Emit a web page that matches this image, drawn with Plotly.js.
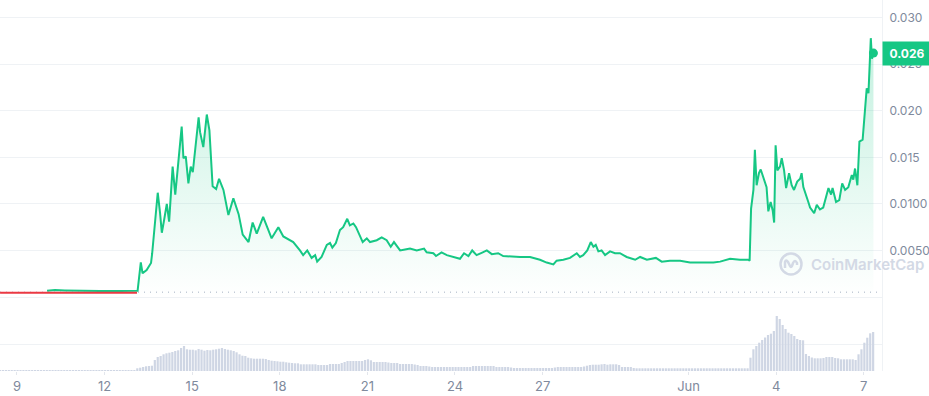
<!DOCTYPE html>
<html>
<head>
<meta charset="utf-8">
<script src="https://cdn.plot.ly/plotly-3.0.1.min.js"></script>
<style>
html,body{margin:0;padding:0;background:#fff;}
#chart{width:929px;height:396px;}
</style>
</head>
<body>
<div id="chart"></div>
<script>
// ---- Data (days are "day of May", values > 31 run into June) ----
const redDays = [8.42, 10.03, 11.84, 13.11];
const redVals = [0.00046, 0.00046, 0.00046, 0.00046];

const priceDays = [
  10.03,10.30,10.64,11.16,11.84,12.53,13.11,13.13,
  13.24,13.30,13.44,13.59,13.63,13.82,13.90,13.96,14.04,14.13,14.21,14.33,14.42,
  14.64,14.70,14.78,14.87,14.95,15.02,15.22,15.27,15.38,15.50,15.59,15.70,15.82,
  15.92,16.07,16.24,16.41,16.59,16.73,16.93,17.07,17.21,17.43,17.72,17.95,18.12,
  18.46,18.69,18.80,18.94,19.09,19.21,19.28,19.43,19.61,19.72,19.80,19.92,20.06,
  20.17,20.31,20.40,20.52,20.61,20.69,20.84,20.98,21.09,21.32,21.49,21.66,21.80,
  21.91,22.12,22.29,22.46,22.69,22.94,23.03,23.26,23.35,23.54,23.72,24.00,24.17,
  24.31,24.46,24.59,24.74,24.95,25.09,25.26,25.48,25.65,26.00,26.23,26.57,26.91,
  27.14,27.37,27.48,27.71,27.94,28.17,28.28,28.39,28.53,28.65,28.74,28.82,28.91,
  29.02,29.14,29.31,29.48,29.65,29.88,30.17,30.34,30.57,30.88,31.08,31.36,31.71,
  32.05,32.50,32.85,33.08,33.42,33.76,34.04,34.09,34.14,34.22,34.27,34.33,34.41,
  34.47,34.56,34.67,34.73,34.81,34.88,34.93,34.98,35.04,35.13,35.19,35.27,35.34,
  35.44,35.53,35.61,35.72,35.82,35.87,35.93,36.02,36.10,36.16,36.30,36.39,36.50,
  36.61,36.71,36.79,36.88,36.93,37.05,37.16,37.26,37.36,37.47,37.59,37.64,37.70,
  37.78,37.85,37.96,38.10,38.16,38.24,38.28,38.33
];
const priceVals = [
  0.00066,0.00074,0.00070,0.00066,0.00064,0.00064,0.00064,0.00066,
  0.00372,0.00254,0.0029,0.00365,0.0047,0.0112,0.0090,0.0069,0.0083,0.0100,0.0081,0.0140,0.0110,
  0.0183,0.0149,0.0151,0.0122,0.0140,0.0134,0.0193,0.0177,0.0161,0.0196,0.0179,0.0119,0.0116,
  0.0127,0.0115,0.0088,0.0106,0.0089,0.0067,0.0059,0.0080,0.0068,0.0086,0.0063,0.0075,0.0065,
  0.0059,0.0050,0.0045,0.0050,0.0042,0.0045,0.0038,0.0043,0.0056,0.0058,0.0053,0.0058,0.0072,
  0.0075,0.0084,0.0077,0.0079,0.0075,0.0070,0.0059,0.0063,0.0059,0.0061,0.0064,0.0061,0.0054,
  0.0059,0.0050,0.0051,0.0052,0.0050,0.0052,0.0048,0.0047,0.0044,0.0048,0.0045,0.0042,0.0041,
  0.0047,0.0044,0.0050,0.0045,0.0048,0.0050,0.0046,0.0047,0.0044,0.0043,0.0043,0.0043,0.0040,
  0.0037,0.0035,0.0039,0.0040,0.0042,0.0047,0.0043,0.0045,0.0050,0.0059,0.0054,0.0056,0.0049,
  0.0050,0.0045,0.0049,0.0047,0.0047,0.0043,0.0040,0.0043,0.0040,0.0042,0.0038,0.0039,0.0039,
  0.0037,0.0037,0.0037,0.0038,0.0041,0.0040,0.0040,0.0039,0.0095,0.0115,0.0158,0.0120,0.0133,
  0.0137,0.0129,0.0118,0.0092,0.0102,0.0093,0.0080,0.0163,0.0136,0.0140,0.0149,0.0136,0.0117,
  0.0133,0.0120,0.0115,0.0124,0.0127,0.0133,0.0118,0.0108,0.0102,0.0096,0.0090,0.0099,0.0094,
  0.0096,0.0108,0.0117,0.0110,0.0117,0.0102,0.0104,0.0122,0.0115,0.0118,0.0131,0.0126,0.0138,
  0.0120,0.0167,0.0169,0.0224,0.0219,0.0278,0.0256,0.0262
];

// volume bars: one every 0.1 day starting at volStartDay (arbitrary units)
const volStartDay = 8.42;
const volStepDay = 0.1;
const volumes = [
  10,10,10,10,10,10,10,10,10,10,10,10,10,10,10,10,10,10,10,10,10,10,10,10,10,10,10,10,10,10,
  10,10,10,10,10,10,10,10,10,10,10,10,10,10,10,10,10,
  27,33,40,47,50,53,110,140,150,167,177,183,190,200,207,230,250,217,213,213,207,220,213,203,210,
  207,213,217,223,230,220,213,207,200,187,167,153,150,133,127,123,123,123,123,120,110,103,100,97,
  93,93,87,83,80,77,77,
  67,67,67,67,67,67,60,60,60,60,70,70,70,70,80,90,100,100,100,100,100,100,110,117,107,
  90,90,90,90,90,85,80,80,80,70,70,70,70,70,65,60,50,50,50,45,
  40,40,40,40,40,40,40,40,40,40,40,40,40,40,50,50,50,50,50,50,50,50,40,40,40,40,40,35,
  30,30,30,30,30,30,30,30,30,30,30,30,30,30,35,40,40,40,40,40,40,40,40,40,
  45,53,60,63,63,63,67,70,63,67,67,67,60,40,40,40,40,30,
  27,27,27,27,27,27,27,27,27,27,27,27,27,27,27,27,27,27,27,27,27,27,27,27,27,27,27,27,27,27,
  27,27,27,27,27,27,27,27,27,
  133,217,250,283,310,335,360,373,400,550,520,460,420,383,370,350,320,310,307,
  170,150,135,127,127,127,130,140,140,140,130,127,117,117,117,117,117,110,167,217,283,333,377,390
];

const tickDays = [9, 12, 15, 18, 21, 24, 27, 32, 35, 38];
const tickLabels = ['9', '12', '15', '18', '21', '24', '27', 'Jun', '4', '7'];

const priceTicks = [0.005, 0.010, 0.015, 0.020, 0.025, 0.030];
const priceTickLabels = ['0.0050', '0.0100', '0.015', '0.020', '0.025', '0.030'];

const openPrice = 0.00052;
const currentPriceLabel = '0.026';

// ---- helpers ----
function toDate(d) {
  const ms = Date.UTC(2023, 4, 1) + Math.round((d - 1) * 86400000);
  return new Date(ms).toISOString().slice(0, 19).replace('T', ' ');
}
const GREEN = '#16c784';
const RED = '#ea3943';
const GRID = '#eff2f5';
const TXT = '#808a9d';
const WM = '#d3d9e5';

const priceX = priceDays.map(toDate);
const redX = redDays.map(toDate);
const volX = volumes.map((v, i) => toDate(volStartDay + i * volStepDay));
const lastX = priceX[priceX.length - 1];
const lastY = priceVals[priceVals.length - 1];

const traces = [
  {
    type: 'bar', x: volX, y: volumes, xaxis: 'x', yaxis: 'y2',
    marker: {color: '#cfd6e4'}, hoverinfo: 'skip'
  },
  {
    type: 'scatter', mode: 'lines', x: priceX, y: priceVals,
    line: {color: GREEN, width: 2},
    fill: 'tozeroy',
    fillgradient: {
      type: 'vertical', start: 0, stop: 0.028,
      colorscale: [[0, 'rgba(22,199,132,0)'], [1, 'rgba(22,199,132,0.26)']]
    },
    hoverinfo: 'skip'
  },
  {
    type: 'scatter', mode: 'lines', x: redX, y: redVals,
    line: {color: RED, width: 2}, hoverinfo: 'skip'
  },
  {
    type: 'scatter', mode: 'markers', x: [lastX], y: [lastY],
    marker: {color: GREEN, size: 9}, hoverinfo: 'skip'
  }
];

const volDomTop = (371 - 297) / 371;
const wmY = (371 - 264) / 371;

const layout = {
  width: 929, height: 396,
  margin: {l: 0, r: 47, t: 0, b: 25, pad: 0},
  paper_bgcolor: '#ffffff', plot_bgcolor: '#ffffff',
  showlegend: false,
  font: {family: 'Inter, "Noto Sans", sans-serif', color: TXT, size: 12},
  bargap: 0.25,
  xaxis: {
    type: 'date',
    range: [toDate(8.418), toDate(8.418 + 882 / 29.2)],
    anchor: 'y2',
    showgrid: false, zeroline: false, showline: false,
    tickvals: tickDays.map(toDate), ticktext: tickLabels,
    ticks: 'outside', ticklen: 3, tickcolor: '#e3e6ec', tickwidth: 1,
    tickfont: {size: 13, color: TXT, family: 'Inter, sans-serif'},
    fixedrange: true
  },
  yaxis: {
    domain: [volDomTop, 1],
    range: [0, 0.0319],
    side: 'right',
    tickvals: priceTicks, ticktext: priceTickLabels,
    ticks: '', ticklabelstandoff: 4,
    tickfont: {size: 12, color: TXT, family: 'Inter, sans-serif'},
    showgrid: true, gridcolor: GRID, gridwidth: 1,
    zeroline: true, zerolinecolor: GRID, zerolinewidth: 1,
    showline: true, linecolor: GRID, linewidth: 1,
    fixedrange: true
  },
  yaxis2: {
    domain: [0, volDomTop],
    range: [0, 740],
    side: 'right',
    tickvals: [270], showticklabels: false, ticks: '',
    showgrid: true, gridcolor: GRID, gridwidth: 1,
    zeroline: false,
    showline: true, linecolor: GRID, linewidth: 1,
    fixedrange: true
  },
  shapes: [
    {
      type: 'line', xref: 'paper', x0: 0, x1: 0.998, yref: 'y', y0: openPrice, y1: openPrice,
      line: {color: '#a6b0c3', width: 1, dash: '1px,5px'}, layer: 'below'
    },
    {
      type: 'circle', xref: 'paper', yref: 'paper', xsizemode: 'pixel', ysizemode: 'pixel',
      xanchor: 791 / 882, yanchor: wmY,
      x0: -10.5, x1: 10.5, y0: -10.5, y1: 10.5,
      line: {color: WM, width: 2.5}
    },
    {
      type: 'path', xref: 'paper', yref: 'paper', xsizemode: 'pixel', ysizemode: 'pixel',
      xanchor: 791 / 882, yanchor: wmY,
      path: 'M -6 -4 L -6 2 Q -5 5 -3 2 L -1 -2 Q 0 -4 1 -2 L 2 1 Q 4 5 6 1 L 6 -1',
      line: {color: WM, width: 2.5}
    }
  ],
  annotations: [
    {
      xref: 'paper', x: 1, xanchor: 'left', yref: 'y', y: lastY, yanchor: 'middle',
      text: '<b>' + currentPriceLabel + '</b>', showarrow: false,
      bgcolor: GREEN, borderpad: 4, width: 40, align: 'center',
      font: {color: '#ffffff', size: 12, family: 'Inter, sans-serif'}
    },
    {
      xref: 'paper', x: 809 / 882, xanchor: 'left', yref: 'paper', y: wmY, yanchor: 'middle',
      text: 'CoinMarketCap', showarrow: false,
      font: {color: WM, size: 15, family: 'Inter, sans-serif', weight: 600}
    }
  ]
};

Plotly.newPlot('chart', traces, layout, {displayModeBar: false, staticPlot: true});
</script>
</body>
</html>
